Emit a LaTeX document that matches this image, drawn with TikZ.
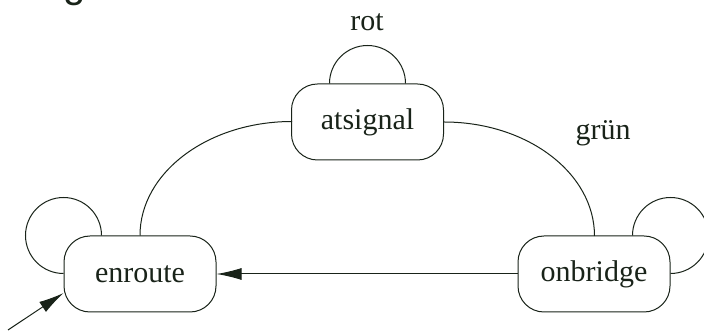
\documentclass[tikz,border=0pt]{standalone}
\usepackage{fontspec}
\setmainfont{Liberation Serif}
\newfontfamily\titlefont{Liberation Sans}
\usetikzlibrary{arrows.meta}
\definecolor{ink}{RGB}{25,35,25}
\begin{document}
\begin{tikzpicture}[x=1pt,y=1pt,
  state/.style={draw=ink, line width=1pt, rounded corners=26pt, minimum width=152pt, minimum height=76pt, inner sep=0pt, font=\fontsize{30}{36}\selectfont, text=ink},
  edge/.style={draw=ink, line width=1pt},
  lbl/.style={font=\fontsize{30}{36}\selectfont, text=ink, inner sep=0pt},
  tip/.style={-{Latex[length=25pt,width=12pt]}}]
\useasboundingbox (0,0) rectangle (704,331);
\node[anchor=base, font=\titlefont\fontsize{40}{40}\selectfont, text=ink, inner sep=0pt] (title) at (75,333) {g};
\node[state] (enroute) at (140,57) {enroute};
\node[state] (atsignal) at (367.5,209) {atsignal};
\node[state] (onbridge) at (594,57) {onbridge};
\node[lbl] (rot) at (367,309) {rot};
\node[lbl] (gruen) at (603,198) {grün};
\coordinate (init) at (8,1);
% loops
\draw[edge] ([xshift=38pt]enroute.north west) arc[start angle=0, end angle=270, radius=38pt];
\draw[edge] ([xshift=-38pt]atsignal.north) arc[start angle=180, end angle=0, radius=38pt];
\draw[edge] ([xshift=-38pt]onbridge.north east) arc[start angle=180, end angle=-90, radius=38pt];
% arcs between states
\draw[edge] (enroute.north) arc[start angle=180, end angle=90, x radius=152pt, y radius=114pt];
\draw[edge] (atsignal.east) arc[start angle=90, end angle=0, x radius=150.5pt, y radius=114pt];
% straight arrows
\draw[edge, tip, ink] (onbridge.west) -- (enroute.east);
\draw[edge, tip, ink] (init) -- (enroute.194);
\end{tikzpicture}
\end{document}
